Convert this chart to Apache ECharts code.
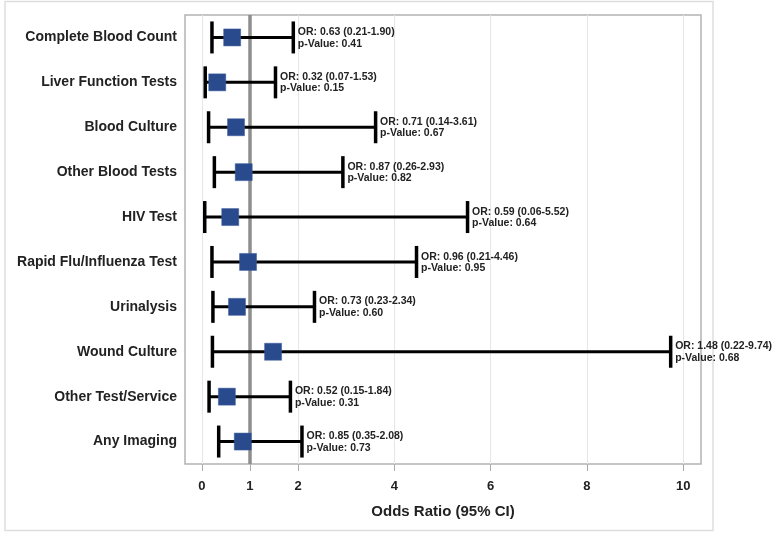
<!DOCTYPE html>
<html>
<head>
<meta charset="utf-8">
<script src="https://cdn.jsdelivr.net/npm/echarts@6/dist/echarts.min.js"></script>
<style>
html,body{margin:0;padding:0;background:#fff;}
#chart{width:772px;height:535px;}
</style>
</head>
<body>
<div id="chart"></div>
<script>
const categories = ["Complete Blood Count","Liver Function Tests","Blood Culture","Other Blood Tests","HIV Test","Rapid Flu/Influenza Test","Urinalysis","Wound Culture","Other Test/Service","Any Imaging"];
const oddsRatio = [0.63,0.32,0.71,0.87,0.59,0.96,0.73,1.48,0.52,0.85];
const ciLower   = [0.21,0.07,0.14,0.26,0.06,0.21,0.23,0.22,0.15,0.35];
const ciUpper   = [1.90,1.53,3.61,2.93,5.52,4.46,2.34,9.74,1.84,2.08];
const pValues   = [0.41,0.15,0.67,0.82,0.64,0.95,0.60,0.68,0.31,0.73];
const xTickValues = [0,1,2,4,6,8,10];
const gridValues = [0,2,4,6,8,10];
const referenceOR = 1;

const FONT = '"Liberation Sans", Arial, Helvetica, sans-serif';
const chart = echarts.init(document.getElementById('chart'), null, {renderer:'canvas'});

const ciData = categories.map((c,i)=>[ciLower[i], ciUpper[i], i, oddsRatio[i], pValues[i]]);
const orData = categories.map((c,i)=>[oddsRatio[i], i]);

const option = {
  backgroundColor:'#fff',
  animation:false,
  graphic:[{
    type:'rect', z:-10, silent:true,
    shape:{x:5, y:1.5, width:708, height:529},
    style:{fill:'none', stroke:'#dedede', lineWidth:1.5}
  }],
  grid:{left:185, right:71, top:15, bottom:71, show:true, borderColor:'#b3b3b3', borderWidth:1.5, backgroundColor:'transparent'},
  xAxis:{
    type:'value', min:-0.35, max:10.37,
    axisLine:{show:false},
    splitLine:{show:false},
    axisTick:{show:true, customValues:xTickValues, length:7, lineStyle:{color:'#aaaaaa', width:1}},
    axisLabel:{customValues:xTickValues, margin:16, fontFamily:FONT, fontWeight:'bold', fontSize:13, color:'#222'},
    name:'Odds Ratio (95% CI)', nameLocation:'middle', nameGap:40,
    nameTextStyle:{fontFamily:FONT, fontWeight:'bold', fontSize:15, color:'#222'}
  },
  yAxis:{
    type:'category', data:categories, inverse:true,
    axisLine:{show:false}, axisTick:{show:false}, splitLine:{show:false},
    axisLabel:{margin:8, fontFamily:FONT, fontWeight:'bold', fontSize:14, color:'#222'}
  },
  series:[
    {
      type:'scatter', data:[], z:1, silent:true,
      markLine:{
        silent:true, symbol:'none', label:{show:false}, animation:false, z:1,
        data: gridValues.map(v=>({xAxis:v, lineStyle:{color:'#e6e6e6', width:1, type:'solid'}}))
          .concat([{xAxis:referenceOR, lineStyle:{color:'#8e8e8e', width:3.5, type:'solid'}}])
      }
    },
    {
      type:'custom', z:10, clip:false, silent:true,
      data:ciData,
      encode:{x:[0,1], y:2},
      renderItem:function(params, api){
        const lo = api.coord([api.value(0), api.value(2)]);
        const hi = api.coord([api.value(1), api.value(2)]);
        const h = 16;
        const orv = api.value(3), lv = api.value(0), uv = api.value(1), pv = api.value(4);
        return {
          type:'group',
          children:[
            {type:'line', shape:{x1:lo[0], y1:lo[1], x2:hi[0], y2:hi[1]}, style:{stroke:'#000', lineWidth:3}},
            {type:'line', shape:{x1:lo[0], y1:lo[1]-h, x2:lo[0], y2:lo[1]+h}, style:{stroke:'#000', lineWidth:3.5}},
            {type:'line', shape:{x1:hi[0], y1:hi[1]-h, x2:hi[0], y2:hi[1]+h}, style:{stroke:'#000', lineWidth:3.5}},
            {type:'text', z2:10, style:{
              text:'OR: '+orv.toFixed(2)+' ('+lv.toFixed(2)+'-'+uv.toFixed(2)+')\np-Value: '+pv.toFixed(2),
              x:hi[0]+4.5, y:hi[1]+0.5, align:'left', verticalAlign:'middle',
              fontFamily:FONT, fontWeight:'bold', fontSize:10.5, lineHeight:11.5, fill:'#222'
            }}
          ]
        };
      }
    },
    {
      type:'scatter', z:12, silent:true,
      data:orData,
      symbol:'rect', symbolSize:17,
      itemStyle:{color:'#2a4a8e', borderColor:'#3d5c9c', borderWidth:0.5, opacity:1}
    }
  ]
};
chart.setOption(option);
</script>
</body>
</html>
